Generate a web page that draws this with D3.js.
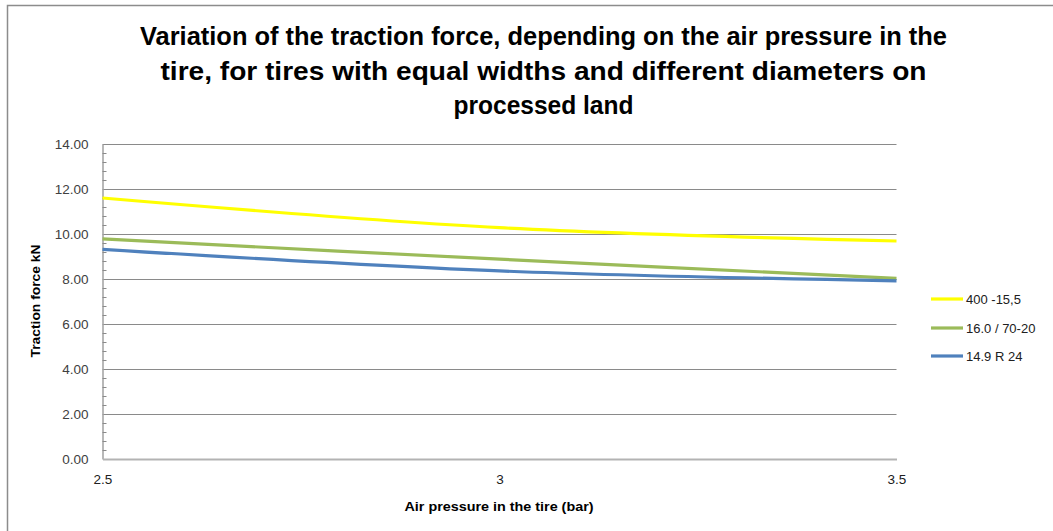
<!DOCTYPE html>
<html>
<head>
<meta charset="utf-8">
<script src="https://cdn.jsdelivr.net/npm/d3@7"></script>
<style>
  html, body { margin: 0; padding: 0; background: #fff; }
  svg { display: block; }
  text { font-family: "Liberation Sans", Arial, sans-serif; }
</style>
</head>
<body>
<svg id="chart" width="1053" height="531"></svg>
<script>
// ---- data ----
const pressures = [2.5, 3, 3.5];
const xTickLabels = ["2.5", "3", "3.5"];
const seriesNames = ["400 -15,5", "16.0 / 70-20", "14.9 R 24"];
const tire400 = [11.6, 10.28, 9.69];
const tire16 = [9.78, 8.88, 8.03];
const tire149 = [9.32, 8.36, 7.92];
const yTicks = [0, 2, 4, 6, 8, 10, 12, 14];
const seriesColors = ["#FFFF00", "#9BBB59", "#4F81BD"];
const titleLines = [
  "Variation of the traction force, depending on the air pressure in the",
  "tire, for tires with equal widths and different  diameters on",
  "processed land"
];

const seriesValues = [tire400, tire16, tire149];

const svg = d3.select("#chart");

// chart frame (left and top edges visible)
svg.append("rect").attr("x", 7.5).attr("y", 5.5).attr("width", 1100).attr("height", 600)
  .attr("fill", "#fff").attr("stroke", "#8c8c8c").attr("stroke-width", 1.5);

const x = d3.scaleLinear().domain([2.5, 3.5]).range([102.5, 896.5]);
const y = d3.scaleLinear().domain([0, 14]).range([459, 144]);

// gridlines
svg.append("g").selectAll("line").data(yTicks.filter(d => d > 0)).join("line")
  .attr("x1", x(2.5)).attr("x2", x(3.5))
  .attr("y1", d => y(d) + 0.5).attr("y2", d => y(d) + 0.5)
  .attr("stroke", "#8a8a8a").attr("stroke-width", 1);

// y axis
const yAxis = d3.axisLeft(y).tickValues(yTicks).tickSize(0).tickPadding(14)
  .tickFormat(d3.format(".2f"));
const gy = svg.append("g").attr("transform", `translate(${x(2.5)},0)`).call(yAxis);
gy.select(".domain").attr("stroke", "#a0a0a0").attr("stroke-width", 1.5);
gy.selectAll("text").attr("font-size", 13.5).attr("fill", "#404040")
  .attr("font-family", "'Liberation Sans', Arial, sans-serif");

// minor ticks (inside)
const minor = d3.range(0, 14.001, 0.4).filter(v => Math.abs(v / 2 - Math.round(v / 2)) > 1e-6);
svg.append("g").selectAll("line").data(minor).join("line")
  .attr("x1", x(2.5)).attr("x2", x(2.5) + 4)
  .attr("y1", d => Math.round(y(d)) + 0.5).attr("y2", d => Math.round(y(d)) + 0.5)
  .attr("stroke", "#8a8a8a").attr("stroke-width", 1);

// x axis
const xAxis = d3.axisBottom(x).tickValues(pressures).tickSize(0).tickPadding(15)
  .tickFormat((d, i) => xTickLabels[i]);
const gx = svg.append("g").attr("transform", `translate(0,${y(0)})`).call(xAxis);
gx.select(".domain").attr("stroke", "#b3b3b3").attr("stroke-width", 2);
gx.selectAll("text").attr("font-size", 13.5).attr("fill", "#202020")
  .attr("font-family", "'Liberation Sans', Arial, sans-serif");

// lines
const line = d3.line().x((d, i) => x(pressures[i])).y(d => y(d))
  .curve(d3.curveCatmullRom.alpha(0));
svg.append("g").selectAll("path").data(seriesValues).join("path")
  .attr("d", d => line(d))
  .attr("fill", "none")
  .attr("stroke", (d, i) => seriesColors[i])
  .attr("stroke-width", 3.2)
  .attr("stroke-linecap", "butt");

// title
const title = svg.append("g");
const titleWidths = [807, 766, 180];
const titleBaselines = [45, 80, 114];
titleLines.forEach((t, i) => {
  title.append("text")
    .attr("x", 543.5).attr("y", titleBaselines[i])
    .attr("text-anchor", "middle")
    .attr("font-size", 25).attr("font-weight", "bold")
    .attr("font-family", "'Liberation Sans Narrow', 'Open Sans', Arial, sans-serif")
    .attr("textLength", titleWidths[i]).attr("lengthAdjust", "spacingAndGlyphs")
    .attr("fill", "#000")
    .text(t);
});

// axis titles
svg.append("text")
  .attr("x", 499).attr("y", 511).attr("text-anchor", "middle")
  .attr("font-size", 12.5).attr("font-weight", "bold").attr("fill", "#000")
  .attr("textLength", 189).attr("lengthAdjust", "spacingAndGlyphs")
  .text("Air pressure in the tire  (bar)");
svg.append("text")
  .attr("transform", "translate(40,301) rotate(-90)")
  .attr("text-anchor", "middle")
  .attr("font-size", 12.5).attr("font-weight", "bold").attr("fill", "#000")
  .attr("textLength", 113).attr("lengthAdjust", "spacingAndGlyphs")
  .text("Traction force kN");

// legend
const legendY = [299, 328, 356];
const lg = svg.append("g").selectAll("g").data(seriesNames).join("g")
  .attr("transform", (d, i) => `translate(931,${legendY[i]})`);
lg.append("line").attr("x1", 0).attr("x2", 32).attr("y1", 0).attr("y2", 0)
  .attr("stroke", (d, i) => seriesColors[i]).attr("stroke-width", 3.2);
lg.append("text").attr("x", 35).attr("y", 0).attr("dy", "0.35em")
  .attr("font-size", 13).attr("fill", "#202020")
  .text(d => d);
</script>
</body>
</html>
